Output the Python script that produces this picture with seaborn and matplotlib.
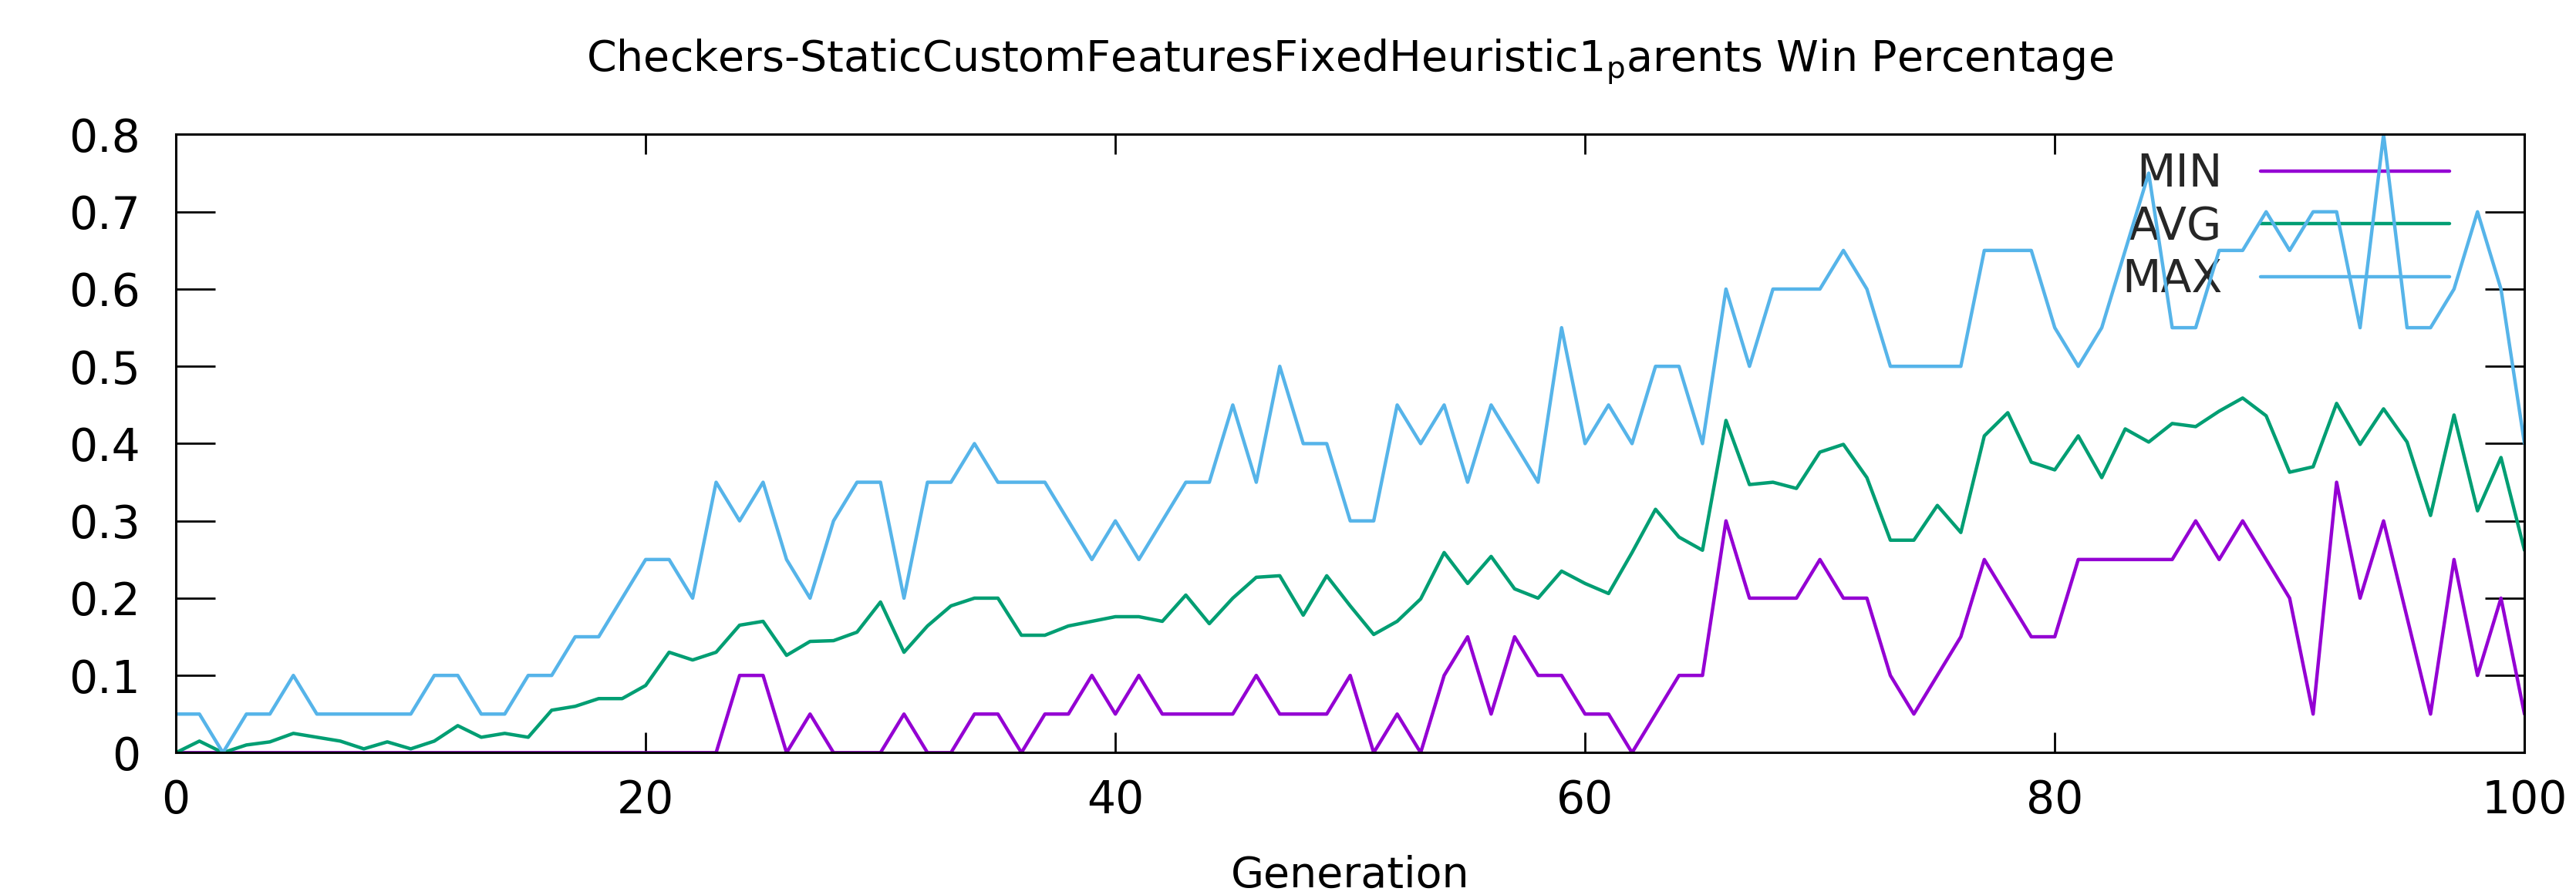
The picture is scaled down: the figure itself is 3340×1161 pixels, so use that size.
import matplotlib
matplotlib.use("Agg")
import matplotlib.pyplot as plt
import seaborn as sns
import numpy as np

generations = list(range(0, 101))

min_win = [0, 0, 0, 0, 0, 0, 0, 0, 0, 0,
           0, 0, 0, 0, 0, 0, 0, 0, 0, 0,
           0, 0, 0, 0, 0.1, 0.1, 0, 0.05, 0, 0,
           0, 0.05, 0, 0, 0.05, 0.05, 0, 0.05, 0.05, 0.1,
           0.05, 0.1, 0.05, 0.05, 0.05, 0.05, 0.1, 0.05, 0.05, 0.05,
           0.1, 0, 0.05, 0, 0.1, 0.15, 0.05, 0.15, 0.1, 0.1,
           0.05, 0.05, 0, 0.05, 0.1, 0.1, 0.3, 0.2, 0.2, 0.2,
           0.25, 0.2, 0.2, 0.1, 0.05, 0.1, 0.15, 0.25, 0.2, 0.15,
           0.15, 0.25, 0.25, 0.25, 0.25, 0.25, 0.3, 0.25, 0.3, 0.25,
           0.2, 0.05, 0.35, 0.2, 0.3, 0.175, 0.05, 0.25, 0.1, 0.2,
           0.05]

avg_win = [0, 0.015, 0, 0.01, 0.014, 0.025, 0.02, 0.015, 0.005, 0.014,
           0.005, 0.015, 0.035, 0.02, 0.025, 0.02, 0.055, 0.06, 0.07, 0.07,
           0.087, 0.13, 0.12, 0.13, 0.165, 0.17, 0.126, 0.144, 0.145, 0.156,
           0.195, 0.13, 0.164, 0.19, 0.2, 0.2, 0.152, 0.152, 0.164, 0.17,
           0.176, 0.176, 0.17, 0.204, 0.167, 0.2, 0.227, 0.229, 0.178, 0.229,
           0.19, 0.153, 0.17, 0.199, 0.259, 0.219, 0.254, 0.212, 0.2, 0.235,
           0.219, 0.206, 0.259, 0.315, 0.279, 0.262, 0.43, 0.347, 0.35, 0.342,
           0.389, 0.399, 0.356, 0.275, 0.275, 0.32, 0.285, 0.41, 0.44, 0.376,
           0.366, 0.41, 0.356, 0.419, 0.402, 0.426, 0.422, 0.442, 0.459, 0.436,
           0.363, 0.37, 0.452, 0.399, 0.445, 0.402, 0.307, 0.437, 0.313, 0.382,
           0.262]

max_win = [0.05, 0.05, 0, 0.05, 0.05, 0.1, 0.05, 0.05, 0.05, 0.05,
           0.05, 0.1, 0.1, 0.05, 0.05, 0.1, 0.1, 0.15, 0.15, 0.2,
           0.25, 0.25, 0.2, 0.35, 0.3, 0.35, 0.25, 0.2, 0.3, 0.35,
           0.35, 0.2, 0.35, 0.35, 0.4, 0.35, 0.35, 0.35, 0.3, 0.25,
           0.3, 0.25, 0.3, 0.35, 0.35, 0.45, 0.35, 0.5, 0.4, 0.4,
           0.3, 0.3, 0.45, 0.4, 0.45, 0.35, 0.45, 0.4, 0.35, 0.55,
           0.4, 0.45, 0.4, 0.5, 0.5, 0.4, 0.6, 0.5, 0.6, 0.6,
           0.6, 0.65, 0.6, 0.5, 0.5, 0.5, 0.5, 0.65, 0.65, 0.65,
           0.55, 0.5, 0.55, 0.65, 0.75, 0.55, 0.55, 0.65, 0.65, 0.7,
           0.65, 0.7, 0.7, 0.55, 0.8, 0.55, 0.55, 0.6, 0.7, 0.6,
           0.4]

series_names = ["MIN", "AVG", "MAX"]
series_colors = ["#9400d3", "#009e73", "#56b4e9"]
x_ticks = [0, 20, 40, 60, 80, 100]
y_ticks = [0, 0.1, 0.2, 0.3, 0.4, 0.5, 0.6, 0.7, 0.8]
y_tick_labels = ["0", "0.1", "0.2", "0.3", "0.4", "0.5", "0.6", "0.7", "0.8"]

sns.set_theme(style="white")
plt.rcParams['font.family'] = ['DejaVu Sans']

fig = plt.figure(figsize=(33.4, 11.61), dpi=100)
ax = fig.add_axes([0.0683, 0.159, 0.9117, 0.6907])

for name, vals, col in zip(series_names, [min_win, avg_win, max_win], series_colors):
    sns.lineplot(x=generations, y=vals, color=col, linewidth=3.2, label=name, ax=ax)

ax.set_xlim(0, 100)
ax.set_ylim(0, 0.8)
ax.set_xticks(x_ticks)
ax.set_xticklabels([str(t) for t in x_ticks])
ax.set_yticks(y_ticks)
ax.set_yticklabels(y_tick_labels)

for sp in ax.spines.values():
    sp.set_visible(True)
    sp.set_color("black")
    sp.set_linewidth(2.2)

ax.tick_params(axis="y", direction="in", length=37, width=2, pad=33,
               labelsize=42, left=True, right=True, colors="black")
ax.tick_params(axis="x", direction="in", length=19, width=2, pad=24,
               labelsize=42, bottom=True, top=True, colors="black")

ax.set_xlabel("Generation", fontsize=40, color="black")
ax.xaxis.set_label_coords(0.5, -0.165)
ax.set_ylabel("")

fig.text(0.524, 0.921,
         r"Checkers-StaticCustomFeaturesFixedHeuristic1$_{\mathrm{p}}$arents Win Percentage",
         ha="center", va="baseline", fontsize=40, color="black")

leg = ax.legend(loc="upper right", bbox_to_anchor=(0.968, 0.972), frameon=False,
                markerfirst=False, fontsize=42, handlelength=4.2, handletextpad=0.85,
                labelspacing=0.2, borderpad=0, borderaxespad=0)
leg.set_zorder(1)

fig.savefig("out.png", dpi=100, facecolor="white")
